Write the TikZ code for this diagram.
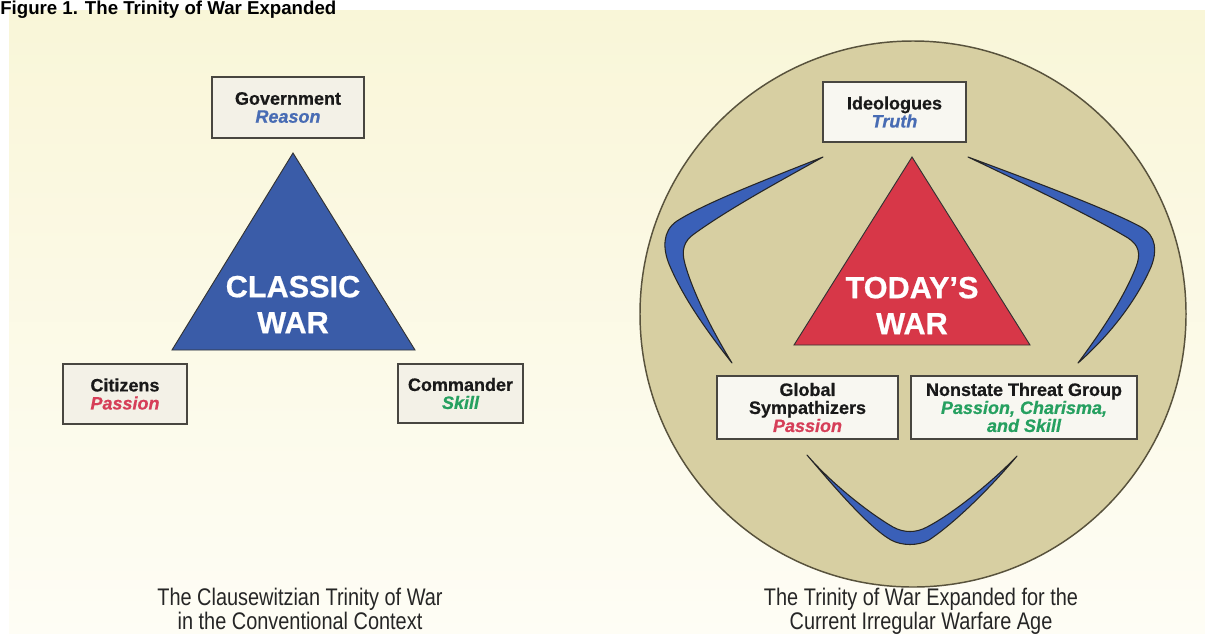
\documentclass[tikz,border=0pt]{standalone}
\usepackage{fontspec}
\setmainfont{Liberation Sans}
\newfontfamily\capfont[FakeStretch=0.83]{Liberation Sans}
\newfontfamily\heavy[ItalicFont={Liberation Sans Bold Italic}, FakeBold=0.6]{Liberation Sans Bold}
\definecolor{bgtop}{RGB}{249,246,216}
\definecolor{bgbot}{RGB}{254,253,245}
\definecolor{boxfill}{RGB}{243,241,231}
\definecolor{boxline}{RGB}{72,70,64}
\definecolor{triblue}{RGB}{58,92,168}
\definecolor{trired}{RGB}{215,55,72}
\definecolor{khaki}{RGB}{215,207,162}
\definecolor{circline}{RGB}{88,82,60}
\definecolor{boomblue}{RGB}{58,96,184}
\definecolor{reasonblue}{RGB}{72,108,180}
\definecolor{passionred}{RGB}{214,62,88}
\definecolor{skillgreen}{RGB}{38,160,96}
\tikzset{
  infobox/.style={draw=boxline, line width=1.5pt, fill=boxfill, align=center,
    inner sep=0pt, text=black!90, font=\heavy\fontsize{13.5}{13.5}\selectfont},
  bigword/.style={text=white, align=center, inner sep=0pt,
    font=\heavy\fontsize{23}{27}\selectfont},
  tri/.style={draw=black!80, line width=0.7pt, line join=miter},
  boom/.style={fill=boomblue, draw=black!85, line width=0.8pt, line join=round},
  caption/.style={align=center, inner sep=0pt, text=black!85,
    font=\capfont\fontsize{18}{18}\selectfont}
}
\newcommand{\rsn}[1]{\textcolor{reasonblue}{\itshape #1}}
\newcommand{\psn}[1]{\textcolor{passionred}{\itshape #1}}
\newcommand{\skl}[1]{\textcolor{skillgreen}{\itshape #1}}
\begin{document}
\begin{tikzpicture}[x=0.75pt,y=-0.75pt]
\useasboundingbox (0,0) rectangle (1205,633);
\clip (0,0) rectangle (1205,633);
% backdrop panel
\shade[top color=bgtop, bottom color=bgbot] (9,10) rectangle (1205,633);
% title
\node[anchor=base west, inner sep=0pt, font=\fontsize{14}{15}\selectfont\bfseries] (title) at (0,14) {Figure 1. The Trinity of War Expanded};

% ---------- classic trinity ----------
\draw[tri, fill=triblue] (293,153) -- (415,350) -- (172,350) -- cycle;
\node[bigword] (classic) at (293,304.5) {CLASSIC\\WAR};
\node[infobox, minimum width=114pt, minimum height=45.75pt] (gov) at (288,107.5) {Government\\\rsn{Reason}};
\node[infobox, minimum width=93pt, minimum height=45pt] (cit) at (125,394) {Citizens\\\psn{Passion}};
\node[infobox, minimum width=93.75pt, minimum height=44.25pt] (com) at (460.5,393.5) {Commander\\\skl{Skill}};

% ---------- expanded trinity ----------
\draw[draw=circline, line width=1.1pt, fill=khaki] (913,314) circle[radius=273];
\draw[tri, fill=trired] (912,157) -- (1030,345) -- (794,345) -- cycle;
\node[bigword] (today) at (912,305.5) {TODAY’S\\WAR};

% boomerangs linking the three actors
\draw[boom] (823,157) .. controls (765,180) and (705,203) .. (677,221)
  .. controls (662,231) and (663,249) .. (669,264)
  .. controls (684,300) and (710,335) .. (732,363)
  .. controls (713,332) and (693,293) .. (685,264)
  .. controls (681,250) and (684,241) .. (694,234)
  .. controls (730,208) and (780,181) .. (823,157) -- cycle;
\draw[boom] (968,157) .. controls (1030,180) and (1110,210) .. (1141,227)
  .. controls (1157,236) and (1157,252) .. (1151,267)
  .. controls (1133,308) and (1102,342) .. (1078,363)
  .. controls (1098,336) and (1123,300) .. (1136,267)
  .. controls (1141,254) and (1139,245) .. (1128,238)
  .. controls (1095,218) and (1025,184) .. (968,157) -- cycle;
\draw[boom] (807,455) .. controls (830,482) and (868,527) .. (891,540)
  .. controls (902,546) and (918,546) .. (929,540)
  .. controls (956,522) and (992,486) .. (1017,456)
  .. controls (990,484) and (952,514) .. (927,527)
  .. controls (916,533) and (904,533) .. (893,527)
  .. controls (869,513) and (832,484) .. (807,455) -- cycle;

\node[infobox, fill=boxfill!60!white, minimum width=107.25pt, minimum height=45pt] (ideo) at (894.5,112) {Ideologues\\\rsn{Truth}};
\node[infobox, fill=boxfill!60!white, minimum width=135.75pt, minimum height=47.25pt] (glob) at (807.5,407.5) {Global\\Sympathizers\\\psn{Passion}};
\node[infobox, fill=boxfill!60!white, minimum width=169.5pt, minimum height=47.25pt] (nsg) at (1024,407.5) {Nonstate Threat Group\\\skl{Passion, Charisma,}\\\skl{and Skill}};

% ---------- captions ----------
\node[caption, anchor=north] (capl) at (300,588) {The Clausewitzian Trinity of War\\in the Conventional Context};
\node[caption, anchor=north] (capr) at (921,588) {The Trinity of War Expanded for the\\Current Irregular Warfare Age};
\end{tikzpicture}
\end{document}
